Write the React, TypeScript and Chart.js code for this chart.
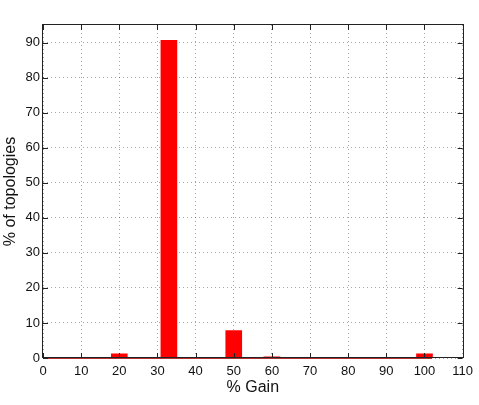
import React, { useEffect, useRef } from "react";
import { Chart, registerables } from "chart.js";

Chart.register(...registerables);

const gainValues = [20, 33, 50, 60, 100];
const topologyPct = [1.2, 90.6, 7.8, 0.3, 1.2];
const xTickMin = 0;
const xTickMax = 110;
const xTickStep = 10;
const yMin = 0;
const yMax = 95;
const yTickStep = 10;
const xTitle = "% Gain";
const yTitle = "% of topologies";

const FONT = '"Liberation Sans", Arial, Helvetica, sans-serif';

const framePlugin = {
  id: "matlabFrame",
  afterDatasetsDraw(chart: any) {
    const { ctx, chartArea, scales } = chart;
    const { left, right, top, bottom } = chartArea;
    ctx.save();
    // baseline of zero-height bars
    ctx.strokeStyle = "#b03030";
    ctx.lineWidth = 1;
    ctx.beginPath();
    const y0 = Math.round(scales.y.getPixelForValue(0));
    ctx.moveTo(left, y0 + 0.5);
    ctx.lineTo(scales.x.getPixelForValue(102), y0 + 0.5);
    ctx.stroke();
    // frame
    ctx.strokeStyle = "#222";
    ctx.lineWidth = 1;
    ctx.strokeRect(Math.round(left) - 0.5, Math.round(top) - 0.5, Math.round(right - left) + 1, Math.round(bottom - top));
    // inward ticks
    const len = 5;
    ctx.beginPath();
    scales.x.ticks.forEach((t: any) => {
      const px = Math.round(scales.x.getPixelForValue(t.value)) + 0.5;
      ctx.moveTo(px, bottom);
      ctx.lineTo(px, bottom - len);
      ctx.moveTo(px, top);
      ctx.lineTo(px, top + len);
    });
    scales.y.ticks.forEach((t: any) => {
      const py = Math.round(scales.y.getPixelForValue(t.value)) + 0.5;
      ctx.moveTo(left, py);
      ctx.lineTo(left + len, py);
      ctx.moveTo(right, py);
      ctx.lineTo(right - len, py);
    });
    ctx.stroke();
    ctx.restore();
  },
};

export default function App() {
  const ref = useRef<HTMLCanvasElement | null>(null);

  useEffect(() => {
    if (!ref.current) return;
    const chart = new Chart(ref.current, {
      type: "bar",
      data: {
        datasets: [
          {
            data: gainValues.map((g, i) => ({ x: g, y: topologyPct[i] })),
            backgroundColor: "#ff0000",
            borderWidth: 0,
            barThickness: 16,
          },
        ],
      },
      options: {
        animation: false,
        responsive: false,
        events: [],
        layout: { padding: { left: 0, right: 13, top: 25, bottom: 0 } },
        plugins: {
          legend: { display: false },
          tooltip: { enabled: false },
        },
        scales: {
          x: {
            type: "linear",
            min: xTickMin,
            max: xTickMax,
            offset: false,
            ticks: {
              stepSize: xTickStep,
              padding: 6,
              color: "#111",
              font: { family: FONT, size: 13 },
              maxRotation: 0,
              autoSkip: false,
              includeBounds: false,
            },
            grid: {
              offset: false,
              drawTicks: false,
              color: "rgba(0,0,0,0.35)",
              lineWidth: 1,
            },
            border: { display: false, dash: [1, 3] },
            title: {
              display: true,
              text: xTitle,
              color: "#111",
              font: { family: FONT, size: 16 },
              padding: { top: 0, bottom: 8 },
            },
            afterFit(scale: any) {
              scale.height = 47;
            },
          },
          y: {
            type: "linear",
            min: yMin,
            max: yMax,
            ticks: {
              stepSize: yTickStep,
              padding: 3,
              color: "#111",
              font: { family: FONT, size: 13 },
              includeBounds: false,
            },
            grid: {
              drawTicks: false,
              color: "rgba(0,0,0,0.35)",
              lineWidth: 1,
            },
            border: { display: false, dash: [1, 3] },
            title: {
              display: true,
              text: yTitle,
              color: "#111",
              font: { family: FONT, size: 16 },
              padding: { top: 1, bottom: 0 },
            },
            afterFit(scale: any) {
              scale.width = 43;
            },
          },
        },
      } as any,
      plugins: [framePlugin],
    });
    return () => chart.destroy();
  }, []);

  return (
    <div style={{ position: "fixed", left: 0, top: 0, width: 479, height: 405, background: "#fff" }}>
      <canvas ref={ref} width={479} height={405} style={{ width: 479, height: 405 }} />
    </div>
  );
}
